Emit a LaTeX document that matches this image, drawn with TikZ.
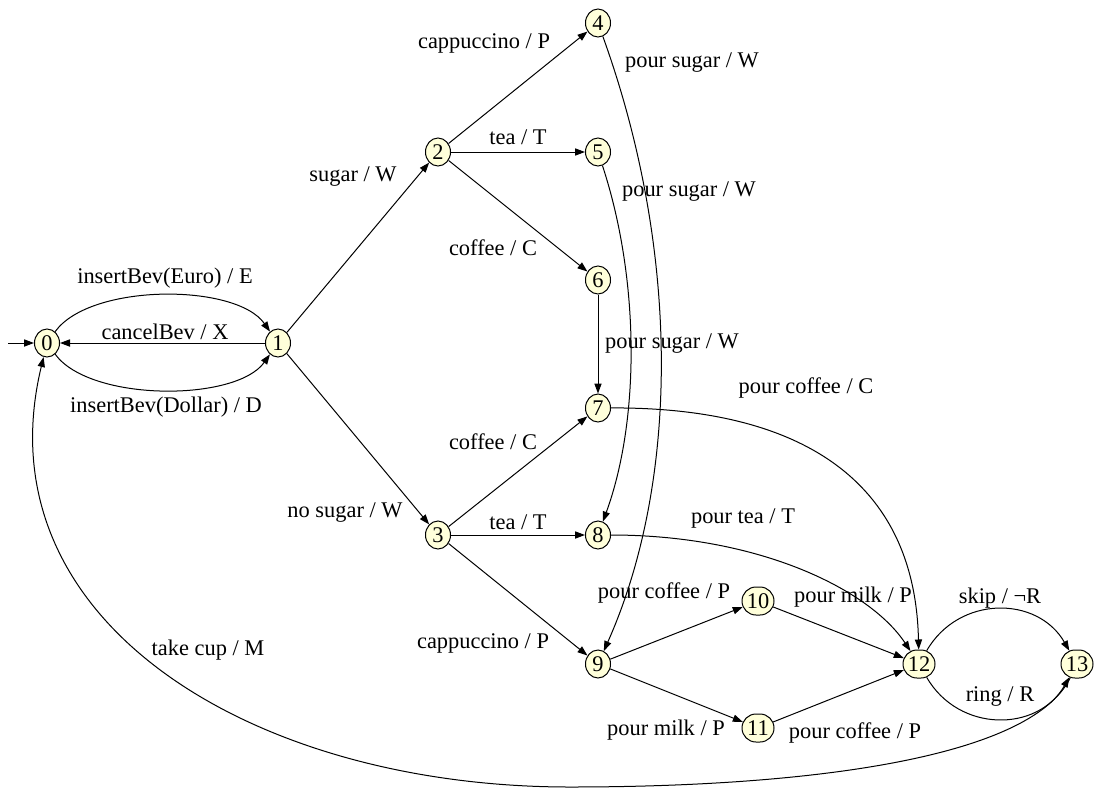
\documentclass[tikz,border=0pt]{standalone}
\usepackage{fontspec}
\setmainfont{Liberation Serif}
\usetikzlibrary{arrows.meta,shapes.geometric,shapes.misc}
\definecolor{nodefill}{RGB}{255,255,218}
\newcommand{\lblfont}{\fontsize{11.2}{13}\selectfont}
\begin{document}
\begin{tikzpicture}[x=0.5pt,y=-0.5pt,
  st/.style={ellipse,draw,line width=0.5pt,fill=nodefill,minimum width=12.5pt,minimum height=14pt,inner sep=0pt,font=\lblfont},
  wst/.style={rounded rectangle,draw,line width=0.5pt,fill=nodefill,minimum width=16pt,minimum height=14pt,inner sep=0pt,font=\lblfont},
  lab/.style={inner sep=0pt,font=\lblfont},
  tr/.style={-{Triangle[length=5pt,width=3.6pt]},line width=0.5pt}]
\useasboundingbox (0,0) rectangle (1094,789);
% states
\node[st] (n0) at (47,343) {0};
\node[st] (n1) at (278,343) {1};
\node[st] (n2) at (438,152) {2};
\node[st] (n3) at (438,535) {3};
\node[st] (n4) at (598,23) {4};
\node[st] (n5) at (598,152) {5};
\node[st] (n6) at (598,280) {6};
\node[st] (n7) at (598,408) {7};
\node[st] (n8) at (598,535) {8};
\node[st] (n9) at (598,664) {9};
\node[wst] (n10) at (758,601) {10};
\node[wst] (n11) at (758,728) {11};
\node[wst] (n12) at (919,664) {12};
\node[wst] (n13) at (1077,664) {13};
\coordinate (init) at (8,343);
% transitions
\draw[tr] (init) -- (n0);
\draw[tr] (n0) .. controls (90,283) and (236,283) .. (n1);
\draw[tr] (n1) -- (n0);
\draw[tr] (n0) .. controls (90,402) and (236,402) .. (n1);
\draw[tr] (n1) -- (n2);
\draw[tr] (n1) -- (n3);
\draw[tr] (n2) -- (n4);
\draw[tr] (n2) -- (n5);
\draw[tr] (n2) -- (n6);
\draw[tr] (n3) -- (n7);
\draw[tr] (n3) -- (n8);
\draw[tr] (n3) -- (n9);
\draw[tr] (n4) .. controls (680,250) and (680,480) .. (n9);
\draw[tr] (n5) .. controls (640,280) and (640,420) .. (n8);
\draw[tr] (n6) -- (n7);
\draw[tr] (n7) .. controls (800,407) and (915,480) .. (n12);
\draw[tr] (n8) .. controls (760,535) and (870,590) .. (n12);
\draw[tr] (n9) -- (n10);
\draw[tr] (n9) -- (n11);
\draw[tr] (n10) -- (n12);
\draw[tr] (n11) -- (n12);
\draw[tr] (n12) to[out=60,in=120,looseness=1.15] (n13);
\draw[tr] (n12) to[out=-60,in=-120,looseness=1.15] (n13);
\coordinate (low) at (570,787);
\draw[tr] (n13) .. controls (1030,760) and (800,787) .. (low) .. controls (250,787) and (-20,620) .. (n0);
% labels
\node[lab] (l01a) at (165,278) {insertBev(Euro) / E};
\node[lab] (l10) at (165,332) {cancelBev / X};
\node[lab] (l01b) at (166,407) {insertBev(Dollar) / D};
\node[lab] (l12) at (353,177) {sugar / W};
\node[lab] (l13) at (345,513) {no sugar / W};
\node[lab] (l24) at (484,43) {cappuccino / P};
\node[lab] (l25) at (518,137) {tea / T};
\node[lab] (l26) at (493,248) {coffee / C};
\node[lab] (l37) at (493,442) {coffee / C};
\node[lab] (l38) at (518,522) {tea / T};
\node[lab] (l39) at (483,643) {cappuccino / P};
\node[lab] (l49) at (692,63) {pour sugar / W};
\node[lab] (l58) at (689,192) {pour sugar / W};
\node[lab] (l67) at (672,344) {pour sugar / W};
\node[lab] (l712) at (806,388) {pour coffee / C};
\node[lab] (l812) at (743,518) {pour tea / T};
\node[lab] (l910) at (664,593) {pour coffee / P};
\node[lab] (l911) at (666,730) {pour milk / P};
\node[lab] (l1012) at (853,597) {pour milk / P};
\node[lab] (l1112) at (855,733) {pour coffee / P};
\node[lab] (l1213a) at (1000,598) {skip / ¬R};
\node[lab] (l1213b) at (1000,696) {ring / R};
\node[lab] (l130) at (208,650) {take cup / M};
\end{tikzpicture}
\end{document}
